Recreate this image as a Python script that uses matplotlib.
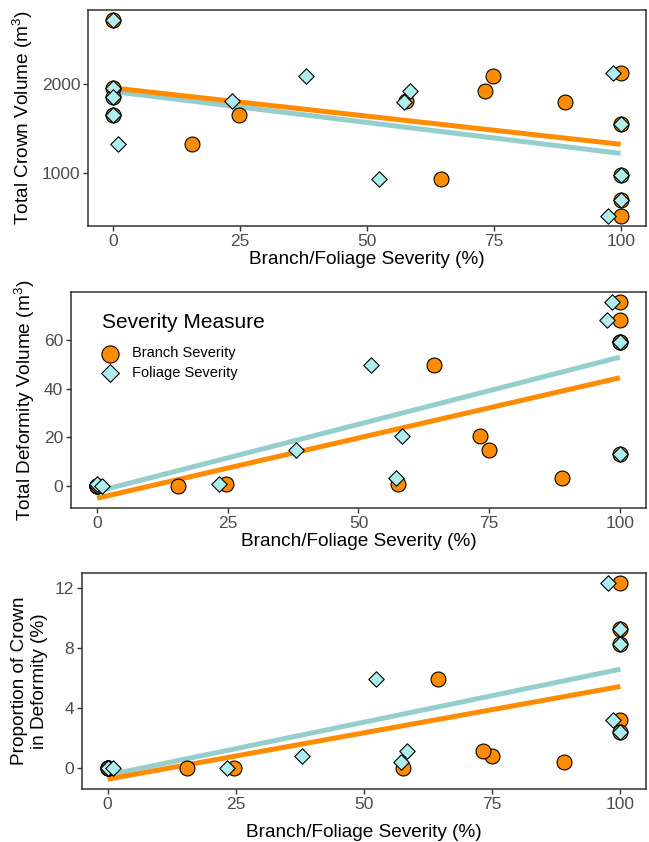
import matplotlib
matplotlib.use('Agg')
import matplotlib.pyplot as plt
import numpy as np

plt.rcParams['font.family'] = ['Liberation Sans', 'DejaVu Sans']
plt.rcParams['mathtext.fontset'] = 'custom'
plt.rcParams['mathtext.rm'] = 'Liberation Sans'
plt.rcParams['mathtext.it'] = 'Liberation Sans:italic'

# one entry per tree
branch_sev = [0, 0, 0, 0, 24.7, 15.5, 57.6, 74.9, 89.0, 73.2, 64.5, 100, 100, 100, 100, 100]
foliage_sev = [0, 0, 0, 0, 0, 1.0, 23.3, 38.0, 57.2, 58.4, 52.3, 98.5, 97.5, 100, 100, 100]
crown_vol = [2720, 1960, 1860, 1655, 1650, 1330, 1812, 2085, 1803, 1926, 941, 2126, 520, 1550, 985, 703]
deform_vol = [0, 0, 0, 0, 0.7, 0, 0.7, 14.6, 3.5, 20.5, 49.8, 75.6, 68.0, 59.2, 59.0, 13.3]
deform_pct = [0, 0, 0, 0, 0.04, 0, 0.04, 0.78, 0.40, 1.15, 5.94, 3.19, 12.37, 9.27, 8.29, 2.39]

ORANGE = '#FF8C00'
TEAL_FILL = '#AEEEEE'
TEAL_LINE = '#96CDCD'
TICK_GREY = '#4D4D4D'
FRAME = '#333333'

fig = plt.figure(figsize=(6.49, 8.42), dpi=100)
W, H = 649, 842


def px_axes(left, top, right, bottom):
    return fig.add_axes([left / W, 1 - bottom / H, (right - left) / W, (bottom - top) / H])


ax1 = px_axes(88, 10, 646, 226)
ax2 = px_axes(71, 292, 646, 508)
ax3 = px_axes(82, 573, 646, 789)


def fit_line(x, y):
    x = np.asarray(x, float)
    slope, icpt = np.polyfit(x, np.asarray(y, float), 1)
    xs = np.array([x.min(), x.max()])
    return xs, icpt + slope * xs


def panel(ax, y, ylabel, yticks):
    bx, by = fit_line(branch_sev, y)
    fx, fy = fit_line(foliage_sev, y)
    ax.plot(fx, fy, color=TEAL_LINE, lw=3.6, solid_capstyle='butt', zorder=2)
    ax.plot(bx, by, color=ORANGE, lw=3.6, solid_capstyle='butt', zorder=2)
    ax.scatter(branch_sev, y, s=115, marker='o', facecolor=ORANGE, edgecolor='black',
               linewidth=0.8, zorder=3, label='Branch Severity')
    ax.scatter(foliage_sev, y, s=62, marker='D', facecolor=TEAL_FILL, edgecolor='black',
               linewidth=0.8, zorder=4, label='Foliage Severity')

    lo = min(min(y), by.min(), fy.min())
    hi = max(max(y), by.max(), fy.max())
    pad = (hi - lo) * 0.05
    ax.set_ylim(lo - pad, hi + pad)
    ax.set_xlim(-5, 105)
    ax.set_xticks([0, 25, 50, 75, 100])
    ax.set_yticks(yticks)

    for sp in ax.spines.values():
        sp.set_color(FRAME)
        sp.set_linewidth(1.1)
    ax.tick_params(length=3.5, width=1, color=FRAME, labelcolor=TICK_GREY,
                   labelsize=12.5, pad=2)
    ax.set_xlabel('Branch/Foliage Severity (%)', fontsize=13.7, labelpad=2)
    ax.set_ylabel(ylabel, fontsize=13.7, labelpad=5)


panel(ax1, crown_vol, 'Total Crown Volume (m$^3$)', [1000, 2000])
panel(ax2, deform_vol, 'Total Deformity Volume (m$^3$)', [0, 20, 40, 60])
panel(ax3, deform_pct, 'Proportion of Crown\nin Deformity (%)', [0, 4, 8, 12])
ax3.xaxis.labelpad = 9

# legend lives inside the middle panel
ax2.text(31 / 575, (508 - 322) / 216, 'Severity Measure', transform=ax2.transAxes,
         fontsize=15, ha='left', va='center')
ax2.legend(loc='upper left', bbox_to_anchor=(0.052, 0.748), frameon=False,
           fontsize=10.5, markerscale=1.15, handlelength=1.2, handletextpad=0.95,
           labelspacing=0.35, borderaxespad=0, borderpad=0)

fig.savefig('out.png', dpi=100)
